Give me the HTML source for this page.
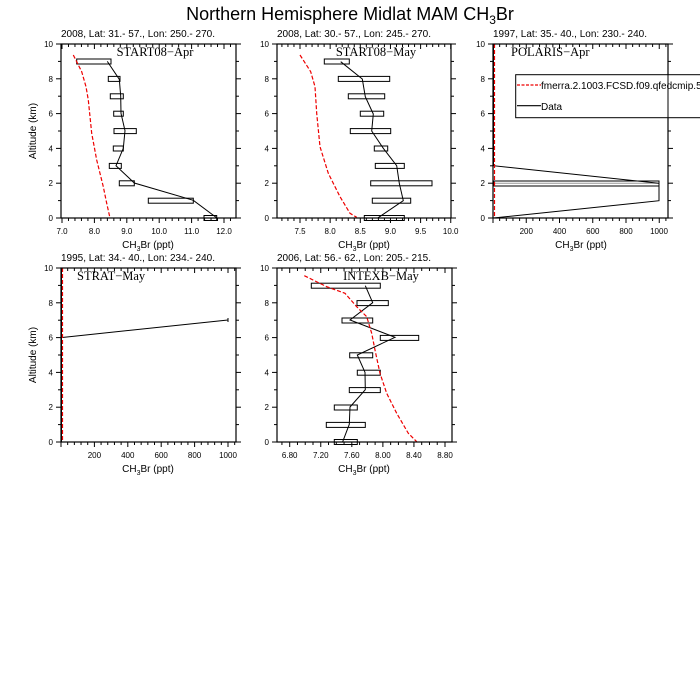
<!DOCTYPE html>
<html><head><meta charset="utf-8"><style>
html,body{margin:0;padding:0;background:#fff;}
svg{display:block;font-family:"Liberation Sans",sans-serif;}
.st{font-size:10px;}
.tk{font-size:8px;text-anchor:middle;}
.ty{font-size:8px;text-anchor:end;}
.pt{font-family:"Liberation Serif",serif;font-size:12.5px;}
.al{font-size:10px;text-anchor:middle;}
</style></head><body>
<svg id="s" width="700" height="700" viewBox="0 0 700 700" xmlns="http://www.w3.org/2000/svg">
<rect width="700" height="700" fill="#fff"/>
<text x="350" y="20" font-size="18" text-anchor="middle">Northern Hemisphere Midlat MAM CH<tspan font-size="12" dy="4">3</tspan><tspan dy="-4">Br</tspan></text>

<!-- Panel 1 -->
<text class="st" x="61" y="37">2008, Lat:  31.- 57., Lon: 250.- 270.</text>
<text class="pt" x="155" y="56" text-anchor="middle">START08−Apr</text>
<g fill="none" stroke="#000" stroke-width="1">
<rect x="76.7" y="59" width="34.3" height="5"/><rect x="108.3" y="76.4" width="11.7" height="5"/>
<rect x="110.3" y="93.8" width="13" height="5"/><rect x="113.7" y="111.2" width="9.6" height="5"/>
<rect x="114" y="128.6" width="22.3" height="5"/><rect x="113.3" y="146" width="10" height="5"/>
<rect x="109.3" y="163.4" width="12" height="5"/><rect x="119.3" y="180.8" width="15" height="5"/>
<rect x="148.3" y="198.2" width="45" height="5"/><rect x="204" y="215.5" width="12.7" height="5"/>
<polyline points="107.3,61.4 119.3,79.3 120.7,96 121,113.3 125,130.7 123.3,148.3 116,165.7 134.3,183 193.3,200.3 217,218"/>
</g>
<polyline fill="none" stroke="#e00" stroke-width="1.2" stroke-dasharray="4,2" points="73.3,55 81.7,71.7 86,86.7 88.3,100 91.7,133.3 96.7,160 103.3,186.7 106.7,203.3 110,218"/>
<text class="tk" x="62" y="234">7.0</text><text class="tk" x="94.4" y="234">8.0</text><text class="tk" x="126.8" y="234">9.0</text><text class="tk" x="159.2" y="234">10.0</text><text class="tk" x="191.6" y="234">11.0</text><text class="tk" x="224" y="234">12.0</text>
<text class="al" x="148" y="248">CH<tspan font-size="7" dy="3">3</tspan><tspan dy="-3">Br (ppt)</tspan></text>
<text class="ty" x="53" y="221">0</text><text class="ty" x="53" y="186">2</text><text class="ty" x="53" y="151.4">4</text><text class="ty" x="53" y="116.6">6</text><text class="ty" x="53" y="81.8">8</text><text class="ty" x="53" y="47">10</text>
<text class="al" transform="translate(36,131) rotate(-90)">Altitude (km)</text>

<!-- Panel 2 -->
<text class="st" x="277" y="37">2008, Lat:  30.- 57., Lon: 245.- 270.</text>
<text class="pt" x="376" y="56" text-anchor="middle">START08−May</text>
<g fill="none" stroke="#000" stroke-width="1">
<rect x="324.3" y="59" width="25" height="5"/><rect x="338.3" y="76.4" width="51.4" height="5"/>
<rect x="348.3" y="93.8" width="36.4" height="5"/><rect x="360.3" y="111.2" width="23.4" height="5"/>
<rect x="350.3" y="128.6" width="40.4" height="5"/><rect x="374.3" y="146" width="13.4" height="5"/>
<rect x="375.3" y="163.4" width="29" height="5"/><rect x="370.7" y="180.8" width="61.3" height="5"/>
<rect x="372.3" y="198.2" width="38.4" height="5"/><rect x="364.3" y="215.5" width="40" height="5"/>
<polyline points="340.7,61.7 362.3,79 365.3,96.7 373.3,114 371.7,131 383.3,148.3 396.7,165.7 399.3,183.3 403.3,200.7 377.7,218"/>
</g>
<polyline fill="none" stroke="#e00" stroke-width="1.2" stroke-dasharray="4,2" points="300,55 310.7,71.7 315,86.7 316.7,113.3 320,146.7 328.3,173.3 340,196.7 350,213.3 356.7,217.3"/>
<text class="tk" x="300" y="234">7.5</text><text class="tk" x="330.1" y="234">8.0</text><text class="tk" x="360.3" y="234">8.5</text><text class="tk" x="390.4" y="234">9.0</text><text class="tk" x="420.6" y="234">9.5</text><text class="tk" x="450.7" y="234">10.0</text>
<text class="al" x="364" y="248">CH<tspan font-size="7" dy="3">3</tspan><tspan dy="-3">Br (ppt)</tspan></text>
<text class="ty" x="269" y="221">0</text><text class="ty" x="269" y="186">2</text><text class="ty" x="269" y="151.4">4</text><text class="ty" x="269" y="116.6">6</text><text class="ty" x="269" y="81.8">8</text><text class="ty" x="269" y="47">10</text>

<!-- Panel 3 -->
<text class="st" x="493" y="37">1997, Lat: 35.- 40., Lon: 230.- 240.</text>
<text class="pt" x="511" y="56">POLARIS−Apr</text>
<g fill="none" stroke="#000" stroke-width="1">
<rect x="494" y="181" width="165" height="5"/><line x1="494" y1="183.3" x2="659" y2="183.3" stroke="#999"/>
<polyline points="493.5,218 659,200.7 659,183.3 493.5,165.7 493.5,44"/>
</g>
<line x1="494.5" y1="44" x2="494.5" y2="218" stroke="#e00" stroke-width="1.2" stroke-dasharray="4,2"/>
<text class="tk" x="526.3" y="234">200</text><text class="tk" x="559.5" y="234">400</text><text class="tk" x="592.8" y="234">600</text><text class="tk" x="626" y="234">800</text><text class="tk" x="659" y="234">1000</text>
<text class="al" x="581" y="248">CH<tspan font-size="7" dy="3">3</tspan><tspan dy="-3">Br (ppt)</tspan></text>
<text class="ty" x="485" y="221">0</text><text class="ty" x="485" y="186">2</text><text class="ty" x="485" y="151.4">4</text><text class="ty" x="485" y="116.6">6</text><text class="ty" x="485" y="81.8">8</text><text class="ty" x="485" y="47">10</text>

<!-- Panel 4 -->
<text class="st" x="61" y="261">1995, Lat: 34.- 40., Lon: 234.- 240.</text>
<text class="pt" x="77" y="280">STRAT−May</text>
<g fill="none" stroke="#000" stroke-width="1">
<line x1="61.5" y1="268" x2="61.5" y2="442"/>
<line x1="61" y1="337.6" x2="228" y2="320"/><line x1="228" y1="318" x2="228" y2="322"/>
</g>
<line x1="62.5" y1="268" x2="62.5" y2="442" stroke="#e00" stroke-width="1.2" stroke-dasharray="4,2"/>
<text class="tk" x="94.4" y="458">200</text><text class="tk" x="127.8" y="458">400</text><text class="tk" x="161.2" y="458">600</text><text class="tk" x="194.6" y="458">800</text><text class="tk" x="228" y="458">1000</text>
<text class="al" x="148" y="472">CH<tspan font-size="7" dy="3">3</tspan><tspan dy="-3">Br (ppt)</tspan></text>
<text class="ty" x="53" y="445">0</text><text class="ty" x="53" y="410">2</text><text class="ty" x="53" y="375.4">4</text><text class="ty" x="53" y="340.6">6</text><text class="ty" x="53" y="305.8">8</text><text class="ty" x="53" y="271">10</text>
<text class="al" transform="translate(36,355) rotate(-90)">Altitude (km)</text>

<!-- Panel 5 -->
<text class="st" x="277" y="261">2006, Lat: 56.- 62., Lon: 205.- 215.</text>
<text class="pt" x="381" y="280" text-anchor="middle">INTEXB−May</text>
<g fill="none" stroke="#000" stroke-width="1">
<rect x="311.3" y="283.2" width="69" height="5"/><rect x="357" y="300.6" width="31.3" height="5"/>
<rect x="342" y="318" width="30.7" height="5"/><rect x="380.3" y="335.4" width="38.4" height="5"/>
<rect x="349.7" y="352.8" width="23" height="5"/><rect x="357.3" y="370.2" width="23" height="5"/>
<rect x="349.3" y="387.6" width="31" height="5"/><rect x="334.3" y="405" width="23" height="5"/>
<rect x="326.3" y="422.4" width="39" height="5"/><rect x="334.3" y="439.5" width="23" height="5"/>
<polyline points="365.3,285.7 372.7,302.7 350,320 395,337.3 357.3,355 365,372.3 365.3,389.7 350,407 349.3,424.3 342.7,441.7"/>
</g>
<polyline fill="none" stroke="#e00" stroke-width="1.2" stroke-dasharray="4,2" points="304.3,275.7 326.7,286.7 345,293.3 356.7,306.7 366.7,316.7 371.7,333.3 375,350 380,373.3 386.7,393.3 396.7,413.3 408.3,433.3 416.7,441.7"/>
<text class="tk" x="289.7" y="458">6.80</text><text class="tk" x="320.8" y="458">7.20</text><text class="tk" x="351.8" y="458">7.60</text><text class="tk" x="382.9" y="458">8.00</text><text class="tk" x="413.9" y="458">8.40</text><text class="tk" x="445" y="458">8.80</text>
<text class="al" x="364" y="472">CH<tspan font-size="7" dy="3">3</tspan><tspan dy="-3">Br (ppt)</tspan></text>
<text class="ty" x="269" y="445">0</text><text class="ty" x="269" y="410">2</text><text class="ty" x="269" y="375.4">4</text><text class="ty" x="269" y="340.6">6</text><text class="ty" x="269" y="305.8">8</text><text class="ty" x="269" y="271">10</text>

<g id="frames"></g>

<!-- Legend -->
<rect x="515.7" y="74.7" width="200" height="43" fill="#fff" stroke="#000" stroke-width="1"/>
<line x1="517" y1="85" x2="541" y2="85" stroke="#e00" stroke-width="1.2" stroke-dasharray="3,1.5"/>
<text x="541" y="89" font-size="10">fmerra.2.1003.FCSD.f09.qfedcmip.5</text>
<line x1="517" y1="105.7" x2="541" y2="105.7" stroke="#000" stroke-width="1.2"/>
<text x="541" y="110" font-size="10">Data</text>
<line x1="668" y1="74.7" x2="668" y2="117.7" stroke="#000" stroke-width="1"/>
</svg>
<script>
(function(){
var g=document.getElementById('frames');var ns='http://www.w3.org/2000/svg';
function L(a,b,c,d){var l=document.createElementNS(ns,'line');l.setAttribute('x1',a);l.setAttribute('y1',b);l.setAttribute('x2',c);l.setAttribute('y2',d);l.setAttribute('stroke','#000');l.setAttribute('stroke-width','1');g.appendChild(l);}
var P=[[61,236,44,218,62,32.4,1,0.2,7],[277,451,44,218,300,60.3,0.5,0.1,7.5],[493,668,44,218,493,0.16625,200,40,0],[61,236,268,442,61,0.167,200,40,0],[277,452,268,442,289.7,77.65,0.4,0.1,6.8]];
P.forEach(function(p){
 var l=p[0],r=p[1],t=p[2],b=p[3];
 var f=document.createElementNS(ns,'rect');f.setAttribute('x',l);f.setAttribute('y',t);f.setAttribute('width',r-l);f.setAttribute('height',b-t);f.setAttribute('fill','none');f.setAttribute('stroke','#000');f.setAttribute('stroke-width','1.2');g.appendChild(f);
 for(var k=0;k<=10;k++){var y=b-k*(b-t)/10;var m=(k%2==0)?5:3;L(l-m,y,l,y);L(r,y,r+m,y);}
 for(var i=-60;i<=300;i++){var v=p[8]+i*p[7];var x=p[4]+(v-p[8])*p[5];if(x<l-0.1||x>r+0.1)continue;
  var rat=Math.abs(v/p[6]-Math.round(v/p[6]));var m=rat<1e-6?5:3;L(x,b,x,b+m);L(x,t,x,t+m);}
});
})();
</script>
</body></html>
